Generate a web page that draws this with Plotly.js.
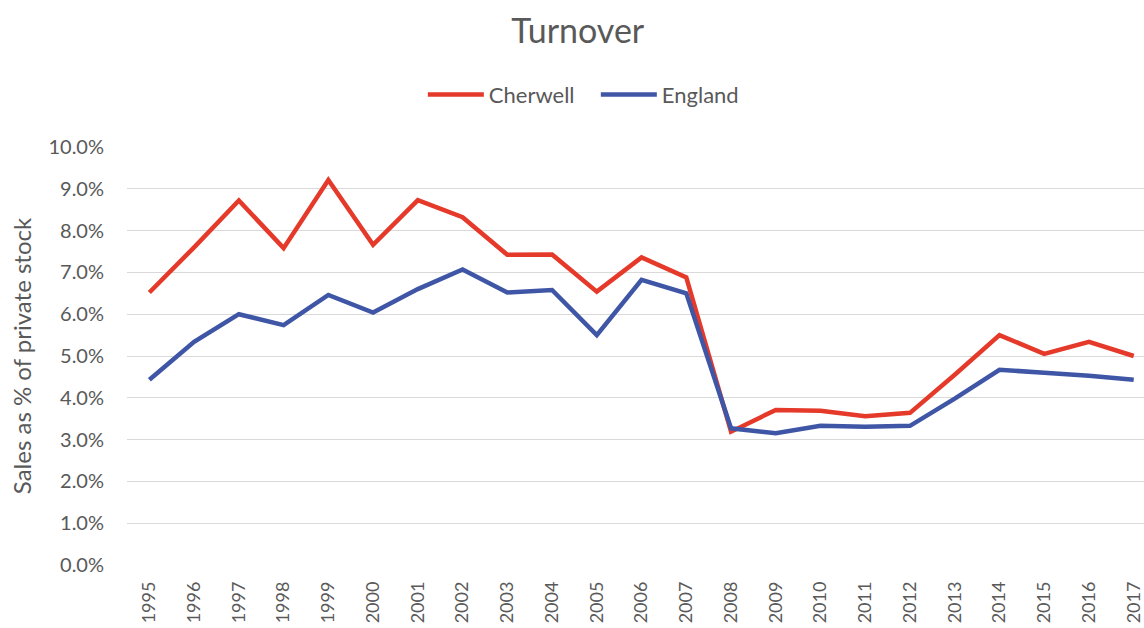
<!DOCTYPE html>
<html>
<head>
<meta charset="utf-8">
<script src="https://cdn.plot.ly/plotly-3.0.1.min.js"></script>
<style>html,body{margin:0;padding:0;background:#fff}#chart{width:1144px;height:628px}</style>
</head>
<body>
<div id="chart"></div>
<script>
const years = ["1995","1996","1997","1998","1999","2000","2001","2002","2003","2004","2005","2006","2007","2008","2009","2010","2011","2012","2013","2014","2015","2016","2017"];
const cherwell = [0.0652,0.0760,0.0872,0.0758,0.0921,0.0766,0.0873,0.0832,0.0742,0.0743,0.0654,0.0736,0.0688,0.0319,0.0371,0.0369,0.0356,0.0364,0.0455,0.0550,0.0505,0.0534,0.0500];
const england = [0.0443,0.0534,0.0600,0.0574,0.0646,0.0604,0.0660,0.0707,0.0652,0.0658,0.0550,0.0682,0.0650,0.0327,0.0315,0.0333,0.0331,0.0333,0.0398,0.0467,0.0460,0.0453,0.0443];
const yTicks = [0,0.01,0.02,0.03,0.04,0.05,0.06,0.07,0.08,0.09,0.10];
const yTickText = ["0.0%","1.0%","2.0%","3.0%","4.0%","5.0%","6.0%","7.0%","8.0%","9.0%","10.0%"];

const font = "Lato, 'Open Sans', sans-serif";
const grey = "#595959";
const traces = [
  {x: years, y: cherwell, name: "Cherwell", type: "scatter", mode: "lines",
   line: {color: "#E5392A", width: 4.5}},
  {x: years, y: england, name: "England", type: "scatter", mode: "lines",
   line: {color: "#3F56A6", width: 4.5}}
];
const layout = {
  width: 1144, height: 628,
  paper_bgcolor: "#fff", plot_bgcolor: "#fff",
  margin: {l: 127, r: 0, t: 147, b: 63},
  title: {text: "Turnover", font: {family: font, size: 34, color: grey}, x: 0.505, xanchor: "center", y: 0.951, yanchor: "middle"},
  showlegend: true,
  legend: {orientation: "h", x: 0.461, xanchor: "center", y: 1.125, yanchor: "middle",
           font: {family: font, size: 22, color: grey}, itemwidth: 56, traceorder: "normal",
           entrywidth: 102, entrywidthmode: "pixels"},
  xaxis: {type: "category", range: [-0.5, 22.23], tickangle: -90, showgrid: false, zeroline: false,
          showline: false, ticks: "", ticklabelstandoff: 12, tickfont: {family: font, size: 18, color: grey}},
  yaxis: {range: [0, 0.10], tickvals: yTicks, ticktext: yTickText, showgrid: true, gridcolor: "#D9D9D9",
          gridwidth: 1, zeroline: false, showline: false, ticks: "", ticklabelstandoff: 22,
          tickfont: {family: font, size: 20, color: grey},
          title: {text: "Sales as % of private stock", font: {family: font, size: 24, color: grey}, standoff: 10}}
};
Plotly.newPlot("chart", traces, layout, {displayModeBar: false, staticPlot: true});
</script>
</body>
</html>
